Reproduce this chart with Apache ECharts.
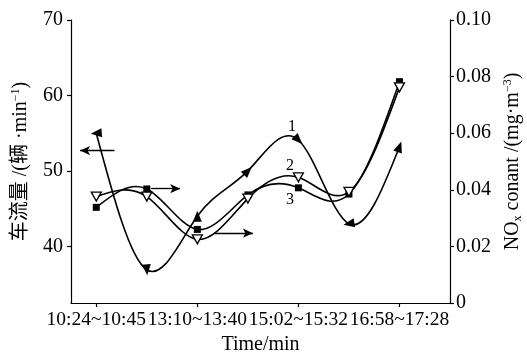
<!DOCTYPE html>
<html>
<head>
<meta charset="utf-8">
<script src="https://cdn.jsdelivr.net/npm/echarts@6/dist/echarts.min.js"></script>
<style>
  html, body { margin: 0; padding: 0; background: #fff; }
  #main { width: 527px; height: 358px; }
</style>
</head>
<body>
<div id="main"></div>
<script>
// data
let xLabels = ['10:24~10:45', '13:10~13:40', '15:02~15:32', '16:58~17:28'];
let xTicks = [0, 1, 2, 3];
let xPos = [0, 0.5, 1, 1.5, 2, 2.5, 3];
let flow1 = [55.0, 36.9, 44.0, 50.0, 54.1, 43.0, 53.2];          // line 1, left axis
let nox2 = [0.0376, 0.0376, 0.0225, 0.0369, 0.0444, 0.0393, 0.0762]; // line 2, right axis
let nox3 = [0.0338, 0.0403, 0.0260, 0.0382, 0.0407, 0.0385, 0.0782]; // line 3, right axis
let leftTicks = [40, 50, 60, 70];

// arrowhead direction of line 1 markers (degrees)
let arrowAngles = [95, 185, 0, -45, -135, 100, -20];

let serif = "'Liberation Serif', 'Noto Sans CJK SC', serif";

// natural cubic spline through pixel points, as bezier path
function splinePath(pts) {
    let n = pts.length;
    let h = [], d = [];
    for (let i = 0; i < n - 1; i++) {
        h.push(pts[i + 1][0] - pts[i][0]);
        d.push((pts[i + 1][1] - pts[i][1]) / h[i]);
    }
    let M = new Array(n).fill(0);
    let a = [], b = [], c = [], r = [];
    for (let i = 1; i < n - 1; i++) {
        a.push(h[i - 1]);
        b.push(2 * (h[i - 1] + h[i]));
        c.push(h[i]);
        r.push(6 * (d[i] - d[i - 1]));
    }
    let m = b.length;
    for (let i = 1; i < m; i++) {
        let w = a[i] / b[i - 1];
        b[i] -= w * c[i - 1];
        r[i] -= w * r[i - 1];
    }
    let sol = new Array(m);
    for (let i = m - 1; i >= 0; i--) {
        sol[i] = (r[i] - (i < m - 1 ? c[i] * sol[i + 1] : 0)) / b[i];
    }
    for (let i = 0; i < m; i++) M[i + 1] = sol[i];
    let slope = [];
    for (let i = 0; i < n - 1; i++) slope.push(d[i] - h[i] * (2 * M[i] + M[i + 1]) / 6);
    slope.push(d[n - 2] + h[n - 2] * (M[n - 2] + 2 * M[n - 1]) / 6);
    let p = 'M' + pts[0][0] + ' ' + pts[0][1];
    for (let i = 0; i < n - 1; i++) {
        let k = h[i] / 3;
        p += ' C' + (pts[i][0] + k) + ' ' + (pts[i][1] + slope[i] * k) + ' ' +
            (pts[i + 1][0] - k) + ' ' + (pts[i + 1][1] - slope[i + 1] * k) + ' ' +
            pts[i + 1][0] + ' ' + pts[i + 1][1];
    }
    return p;
}

function curveSeries(values, yIdx) {
    return {
        type: 'custom',
        yAxisIndex: yIdx,
        z: 2,
        silent: true,
        data: xPos.map((x, i) => [x, values[i]]),
        encode: { x: 0, y: 1 },
        renderItem: function (params, api) {
            if (params.dataIndex !== 0) return null;
            let pts = xPos.map((x, i) => api.coord([x, values[i]]));
            return {
                type: 'path',
                shape: { pathData: splinePath(pts) },
                style: { fill: 'none', stroke: '#000', lineWidth: 1.6 }
            };
        }
    };
}

let myChart = echarts.init(document.getElementById('main'));

let option = {
    animation: false,
    grid: { left: 71, right: 77, top: 20, bottom: 55, outerBoundsMode: 'none' },
    xAxis: {
        type: 'value',
        min: -0.25,
        max: 3.5,
        name: 'Time/min',
        nameLocation: 'middle',
        nameGap: 31,
        nameTextStyle: { fontFamily: serif, fontSize: 20, color: '#000' },
        axisLine: { onZero: false, lineStyle: { color: '#000', width: 1.2 } },
        axisTick: { customValues: xTicks, length: 4, lineStyle: { color: '#000', width: 1.2 } },
        axisLabel: {
            customValues: xTicks,
            hideOverlap: false,
            showMinLabel: true,
            showMaxLabel: true,
            margin: 7,
            fontFamily: serif, fontSize: 19.5, color: '#000',
            formatter: v => xLabels[Math.round(v)]
        },
        splitLine: { show: false }
    },
    yAxis: [{
        type: 'value',
        position: 'left',
        min: 32.5,
        max: 70,
        name: '{a|车流量 /(辆 ·min}{sup|−1}{a|)}',
        nameLocation: 'middle',
        nameGap: 39,
        nameTextStyle: {
            rich: {
                a: { fontFamily: serif, fontSize: 20, color: '#000', lineHeight: 22 },
                sup: { fontFamily: serif, fontSize: 12, color: '#000', verticalAlign: 'top', lineHeight: 22 }
            }
        },
        axisLine: { show: true, onZero: false, lineStyle: { color: '#000', width: 1.2 } },
        axisTick: { show: true, customValues: leftTicks, length: 4, lineStyle: { color: '#000', width: 1.2 } },
        axisLabel: { customValues: leftTicks, margin: 8, fontFamily: serif, fontSize: 20, color: '#000' },
        splitLine: { show: false }
    }, {
        type: 'value',
        position: 'right',
        min: 0,
        max: 0.1,
        interval: 0.02,
        name: '{a|NO}{sub|x}{a| conant /(mg·m}{sup|−3}{a|)}',
        nameLocation: 'middle',
        nameGap: 52,
        nameRotate: 90,
        nameTextStyle: {
            rich: {
                a: { fontFamily: serif, fontSize: 20, color: '#000', lineHeight: 22 },
                sub: { fontFamily: serif, fontSize: 12, color: '#000', verticalAlign: 'bottom', lineHeight: 10 },
                sup: { fontFamily: serif, fontSize: 12, color: '#000', verticalAlign: 'top', lineHeight: 22 }
            }
        },
        axisLine: { show: true, onZero: false, lineStyle: { color: '#000', width: 1.2 } },
        axisTick: { show: true, length: 4, lineStyle: { color: '#000', width: 1.2 } },
        axisLabel: {
            margin: 6, fontFamily: serif, fontSize: 20, color: '#000',
            formatter: v => v === 0 ? '0' : v.toFixed(2)
        },
        splitLine: { show: false }
    }],
    graphic: [
        { type: 'text', x: 292, y: 127, style: { text: '1', font: '16px ' + serif, fill: '#000', align: 'center', verticalAlign: 'middle' } },
        { type: 'text', x: 290, y: 166, style: { text: '2', font: '16px ' + serif, fill: '#000', align: 'center', verticalAlign: 'middle' } },
        { type: 'text', x: 290, y: 200, style: { text: '3', font: '16px ' + serif, fill: '#000', align: 'center', verticalAlign: 'middle' } }
    ],
    series: [
        curveSeries(flow1, 0),
        curveSeries(nox2, 1),
        curveSeries(nox3, 1),
        {
            type: 'scatter',
            yAxisIndex: 1,
            z: 3,
            symbol: 'rect',
            symbolSize: 7,
            itemStyle: { color: '#000', opacity: 1 },
            emphasis: { disabled: true },
            data: xPos.map((x, i) => [x, nox3[i]])
        },
        {
            type: 'scatter',
            yAxisIndex: 1,
            z: 3,
            symbol: 'triangle',
            symbolSize: [10, 9],
            symbolRotate: 180,
            itemStyle: { color: '#fff', borderColor: '#000', borderWidth: 1.3, opacity: 1 },
            emphasis: { disabled: true },
            data: xPos.map((x, i) => [x, nox2[i]])
        },
        {
            type: 'scatter',
            yAxisIndex: 0,
            z: 3,
            symbol: 'triangle',
            symbolSize: [9, 11],
            itemStyle: { color: '#000', opacity: 1 },
            emphasis: { disabled: true },
            data: xPos.map((x, i) => ({ value: [x, flow1[i]], symbolRotate: arrowAngles[i] })),
            markLine: {
                silent: true,
                symbol: ['none', 'arrow'],
                symbolSize: [7, 10],
                label: { show: false },
                lineStyle: { color: '#000', type: 'solid', width: 1.3 },
                data: [
                    [{ coord: [0.18, 52.7] }, { coord: [-0.16, 52.7] }],
                    [{ coord: [0.54, 47.65] }, { coord: [0.83, 47.65] }],
                    [{ coord: [1.17, 41.75] }, { coord: [1.55, 41.75] }]
                ]
            }
        }
    ]
};

myChart.setOption(option);
</script>
</body>
</html>
